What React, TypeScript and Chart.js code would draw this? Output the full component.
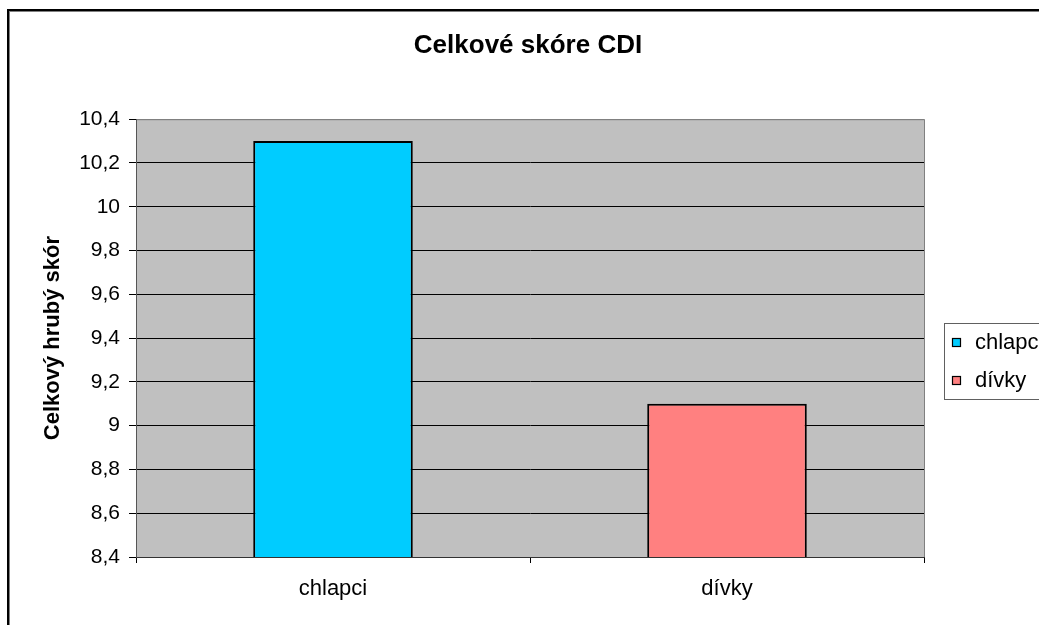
import React, { useEffect, useRef } from "react";
import { Chart, registerables } from "chart.js";

Chart.register(...registerables);

const categories = ["chlapci", "dívky"];
const values = [10.3, 9.1];
const barColors = ["#00CCFF", "#FF8080"];
const yMin = 8.4;
const yMax = 10.4;
const yStep = 0.2;
const titleText = "Celkové skóre CDI";
const yTitleText = "Celkový hrubý skór";

const FONT = "'Liberation Sans', Arial, sans-serif";

const framePlugin = {
  id: "framePlugin",
  beforeDraw(chart: any) {
    const { ctx, chartArea } = chart;
    ctx.save();
    ctx.fillStyle = "#ffffff";
    ctx.fillRect(0, 0, chart.width, chart.height);
    ctx.strokeStyle = "#000000";
    ctx.lineWidth = 2;
    ctx.strokeRect(8, 10, 1200, 800);
    ctx.strokeStyle = "#808080";
    ctx.lineWidth = 1;
    ctx.strokeRect(9.5, 11.5, 1200, 800);
    ctx.fillStyle = "#C0C0C0";
    ctx.fillRect(chartArea.left, chartArea.top, chartArea.right - chartArea.left, chartArea.bottom - chartArea.top);
    ctx.strokeStyle = "#808080";
    ctx.lineWidth = 1;
    ctx.strokeRect(chartArea.left + 0.5, chartArea.top + 0.5, chartArea.right - chartArea.left, chartArea.bottom - chartArea.top);
    ctx.restore();
  },
};

const legendPlugin = {
  id: "customLegend",
  afterDraw(chart: any) {
    const { ctx } = chart;
    const labels: string[] = chart.data.labels;
    const colors: string[] = chart.data.datasets[0].backgroundColor;
    const boxX = 944.5;
    const boxY = 323.5;
    ctx.save();
    ctx.fillStyle = "#ffffff";
    ctx.fillRect(boxX, boxY, 200, 76);
    ctx.strokeStyle = "#606060";
    ctx.lineWidth = 1;
    ctx.strokeRect(boxX, boxY, 200, 76);
    ctx.font = `22px ${FONT}`;
    ctx.textBaseline = "middle";
    ctx.textAlign = "left";
    labels.forEach((lab, i) => {
      const cy = 343 + i * 38;
      ctx.fillStyle = colors[i];
      ctx.fillRect(952.5, cy - 4.5, 8, 8);
      ctx.strokeStyle = "#000000";
      ctx.lineWidth = 1.2;
      ctx.strokeRect(952.5, cy - 4.5, 8, 8);
      ctx.fillStyle = "#000000";
      ctx.fillText(lab, 975, cy);
    });
    ctx.restore();
  },
};

export default function App() {
  const ref = useRef<HTMLCanvasElement>(null);
  useEffect(() => {
    if (!ref.current) return;
    const chart = new Chart(ref.current, {
      type: "bar",
      data: {
        labels: categories,
        datasets: [
          {
            label: "CDI",
            data: values,
            backgroundColor: barColors,
            borderColor: "#000000",
            borderWidth: 2,
            categoryPercentage: 1,
            barPercentage: 0.405,
            yAxisID: "y",
          },
        ],
      },
      options: {
        animation: false,
        responsive: false,
        devicePixelRatio: 1,
        layout: { padding: { left: 17, top: 0, right: 0, bottom: 0 } },
        plugins: {
          legend: { display: false },
          tooltip: { enabled: false },
          title: {
            display: true,
            text: titleText,
            color: "#000000",
            font: { family: FONT, size: 26, weight: "bold" },
            padding: { top: 30, bottom: 58 },
          },
        },
        scales: {
          x: {
            afterFit(scale: any) {
              scale.height = 68;
            },
            grid: {
              drawOnChartArea: false,
              drawTicks: true,
              tickLength: 6,
              color: "#000000",
              offset: true,
            },
            border: { color: "#333333", width: 1 },
            ticks: {
              color: "#000000",
              font: { family: FONT, size: 22 },
              padding: 13,
            },
          },
          y: {
            min: yMin,
            max: yMax,
            afterFit(scale: any) {
              scale.width = 119;
            },
            ticks: {
              stepSize: yStep,
              color: "#000000",
              font: { family: FONT, size: 21 },
              padding: 9,
              callback: (v: any) => String(Math.round(Number(v) * 10) / 10).replace(".", ","),
            },
            grid: {
              color: (ctx: any) => (ctx.tick && Math.abs(ctx.tick.value - yMax) < 1e-6 ? "#808080" : "#000000"),
              tickColor: "#000000",
              tickLength: 7,
              lineWidth: 1,
            },
            border: { color: "#555555", width: 1 },
            title: {
              display: true,
              text: yTitleText,
              color: "#000000",
              font: { family: FONT, size: 22, weight: "bold" },
              padding: { top: 23, bottom: 0 },
            },
          },
          yRight: {
            position: "right",
            min: yMin,
            max: yMax,
            display: true,
            afterFit(scale: any) {
              scale.width = 115;
            },
            ticks: { display: false },
            grid: { display: false, drawOnChartArea: false, drawTicks: false },
            border: { display: false },
          },
        },
      },
      plugins: [framePlugin, legendPlugin],
    });
    return () => chart.destroy();
  }, []);
  return (
    <div style={{ position: "fixed", left: 0, top: 0, width: 1039, height: 625, overflow: "hidden", background: "#fff" }}>
      <canvas ref={ref} width={1039} height={625} style={{ display: "block" }} />
    </div>
  );
}
